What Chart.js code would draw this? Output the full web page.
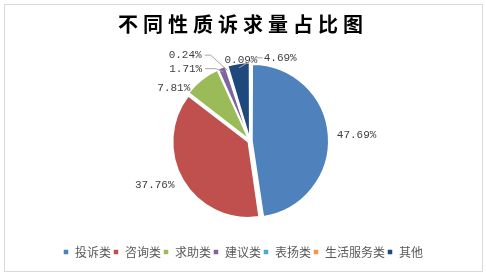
<!DOCTYPE html>
<html>
<head>
<meta charset="utf-8">
<script src="https://cdn.jsdelivr.net/npm/chart.js@4.4.0/dist/chart.umd.min.js"></script>
<style>
  html, body { margin: 0; padding: 0; background: #fff; }
  #wrap { position: relative; width: 486px; height: 276px; }
  #frame { position: absolute; left: 4px; top: 4px; width: 477px; height: 266px; border: 1px solid #d9d9d9; }
  canvas { position: absolute; left: 0; top: 0; }
</style>
</head>
<body>
<div id="wrap">
  <div id="frame"></div>
  <canvas id="pie-chart" width="486" height="276"></canvas>
</div>
<script>
const categories = ['投诉类', '咨询类', '求助类', '建议类', '表扬类', '生活服务类', '其他'];
const shares = [47.69, 37.76, 7.81, 1.71, 0.24, 0.09, 4.69];
const sliceColors = ['#4F81BD', '#C0504D', '#9BBB59', '#8064A2', '#4BACC6', '#F79646', '#1F497D'];

// where each value label sits, relative to the outer edge of its slice:
// [dx, dy, align, leader elbow length (0 = no leader)]
const labelPlace = [
  [10, 0, 'left', 0],
  [-9, 5, 'right', 0],
  [-12, 8, 'right', 0],
  [-20, -0.5, 'right', 11],
  [-25, -12.5, 'right', 6],
  [-3, -7, 'left', 0],
  [25, -7, 'left', 7]
];

const pieShift = 14;

const valueLabels = {
  id: 'valueLabels',
  afterInit(chart) {
    // wide letter spacing on the title only
    const t = chart.titleBlock;
    const draw = t.draw.bind(t);
    t.draw = function () {
      chart.ctx.save();
      chart.ctx.letterSpacing = '5px';
      draw();
      chart.ctx.restore();
    };
  },
  afterLayout(chart) {
    const a = chart.chartArea;
    a.left += pieShift;
    a.width = a.right - a.left;
  },
  afterDatasetsDraw(chart) {
    const ctx = chart.ctx;
    const arcs = chart.getDatasetMeta(0).data;
    ctx.save();
    ctx.font = '11px "Liberation Mono"';
    ctx.textBaseline = 'middle';
    arcs.forEach((arc, i) => {
      const { x, y, startAngle, endAngle, outerRadius } = arc.getProps(['x', 'y', 'startAngle', 'endAngle', 'outerRadius'], true);
      const mid = (startAngle + endAngle) / 2;
      const ax = x + Math.cos(mid) * (outerRadius + 2);
      const ay = y + Math.sin(mid) * (outerRadius + 2);
      const [dx, dy, align, elbow] = labelPlace[i];
      const text = shares[i].toFixed(2) + '%';
      const tx = ax + dx;
      const ty = ay + dy;
      if (elbow) {
        const sx = align === 'right' ? tx + 3 : tx - 1;
        const ex = align === 'right' ? sx + elbow : sx - elbow;
        ctx.strokeStyle = '#a6a6a6';
        ctx.lineWidth = 1;
        ctx.beginPath();
        ctx.moveTo(sx, ty);
        ctx.lineTo(ex, ty);
        ctx.lineTo(x + Math.cos(mid) * (outerRadius - 1), y + Math.sin(mid) * (outerRadius - 1));
        ctx.stroke();
      }
      ctx.fillStyle = '#404040';
      ctx.textAlign = align;
      ctx.fillText(text, tx, ty);
    });
    ctx.restore();
  }
};

const ctx = document.getElementById('pie-chart').getContext('2d');
new Chart(ctx, {
  type: 'pie',
  data: {
    labels: categories,
    datasets: [{
      data: shares,
      backgroundColor: sliceColors,
      borderColor: '#ffffff',
      borderWidth: 1.5,
      offset: 8,
      radius: 75
    }]
  },
  options: {
    responsive: false,
    animation: false,
    layout: {
      padding: { top: 4, left: 4, right: 4, bottom: 8 }
    },
    plugins: {
      title: {
        display: true,
        text: '不同性质诉求量占比图',
        color: '#000000',
        font: { family: '"Noto Sans CJK SC"', size: 20, weight: 'bold' },
        padding: { top: 8, bottom: 2 }
      },
      legend: {
        position: 'bottom',
        labels: {
          boxWidth: 6,
          boxHeight: 6,
          padding: 2,
          color: '#595959',
          font: { family: '"Noto Sans CJK SC"', size: 12 }
        }
      },
      tooltip: { enabled: false }
    }
  },
  plugins: [valueLabels]
});
</script>
</body>
</html>
